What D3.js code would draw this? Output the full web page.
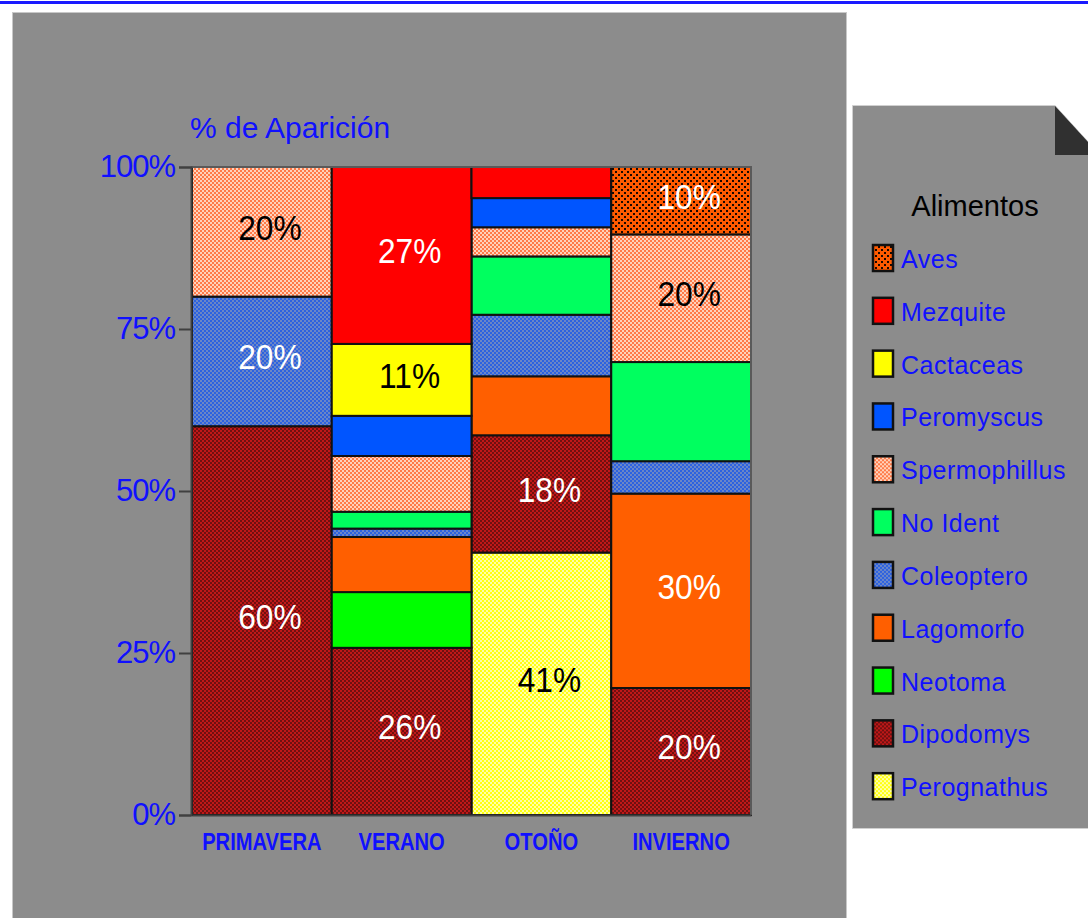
<!DOCTYPE html>
<html>
<head>
<meta charset="utf-8">
<script src="https://cdn.jsdelivr.net/npm/d3@7"></script>
<style>
  body { margin: 0; background: #fff; }
  svg { display: block; font-family: "Liberation Sans", Arial, sans-serif; }
</style>
</head>
<body>
<div id="chart"></div>
<script>
// seasons along x
var categories = ["PRIMAVERA", "VERANO", "OTOÑO", "INVIERNO"]

// stacked from the bottom up
var series = ["Perognathus", "Dipodomys", "Neotoma", "Lagomorfo", "Coleoptero",
  "No Ident", "Spermophillus", "Peromyscus", "Cactaceas", "Mezquite", "Aves"]

// % de aparicion per season
var perognathus   = [0, 0, 40.5, 0]
var dipodomys     = [60, 25.8, 18.1, 19.6]
var neotoma       = [0, 8.6, 0, 0]
var lagomorfo     = [0, 8.5, 9.1, 30]
var coleoptero    = [20, 1.3, 9.5, 5]
var noIdent       = [0, 2.6, 9.0, 15.3]
var spermophillus = [20, 8.6, 4.5, 19.7]
var peromyscus    = [0, 6.2, 4.5, 0]
var cactaceas     = [0, 11.1, 0, 0]
var mezquite      = [0, 27.3, 4.8, 0]
var aves          = [0, 0, 0, 10.4]

var yTicks = [0, 25, 50, 75, 100]

// labels printed inside the segments
var segLabels = [
  ["PRIMAVERA", "Spermophillus", "20%"],
  ["PRIMAVERA", "Coleoptero", "20%"],
  ["PRIMAVERA", "Dipodomys", "60%"],
  ["VERANO", "Mezquite", "27%"],
  ["VERANO", "Cactaceas", "11%"],
  ["VERANO", "Dipodomys", "26%"],
  ["OTOÑO", "Dipodomys", "18%"],
  ["OTOÑO", "Perognathus", "41%"],
  ["INVIERNO", "Aves", "10%"],
  ["INVIERNO", "Spermophillus", "20%"],
  ["INVIERNO", "Lagomorfo", "30%"],
  ["INVIERNO", "Dipodomys", "20%"]
]

var valuesBySeries = {
  "Perognathus": perognathus, "Dipodomys": dipodomys, "Neotoma": neotoma,
  "Lagomorfo": lagomorfo, "Coleoptero": coleoptero, "No Ident": noIdent,
  "Spermophillus": spermophillus, "Peromyscus": peromyscus, "Cactaceas": cactaceas,
  "Mezquite": mezquite, "Aves": aves
}

var table = categories.map(function (c, i) {
  var row = { cat: c }
  series.forEach(function (s) { row[s] = valuesBySeries[s][i] })
  return row
})

var fills = {
  "Perognathus": "url(#pPerog)",
  "Dipodomys": "url(#pDipo)",
  "Neotoma": "#00ff00",
  "Lagomorfo": "#ff5f00",
  "Coleoptero": "url(#pColeo)",
  "No Ident": "#00ff5f",
  "Spermophillus": "url(#pSperm)",
  "Peromyscus": "#0055ff",
  "Cactaceas": "#ffff00",
  "Mezquite": "#ff0000",
  "Aves": "url(#pAves)"
}
var darkText = { "Spermophillus": 1, "Cactaceas": 1, "Perognathus": 1 }

var W = 1088, H = 918
var svg = d3.select("#chart").append("svg")
  .attr("width", W).attr("height", H)

// dithered fills, 4px tiles with a 2px checker
var defs = svg.append("defs")
function dither(id, a, b) {
  var p = defs.append("pattern").attr("id", id)
    .attr("patternUnits", "userSpaceOnUse").attr("width", 4).attr("height", 4)
  p.append("rect").attr("width", 4).attr("height", 4).attr("fill", a)
    .attr("shape-rendering", "crispEdges")
  p.append("rect").attr("width", 2).attr("height", 2).attr("fill", b)
    .attr("shape-rendering", "crispEdges")
  p.append("rect").attr("x", 2).attr("y", 2).attr("width", 2).attr("height", 2).attr("fill", b)
    .attr("shape-rendering", "crispEdges")
}
dither("pPerog", "#ffff10", "#ffffa8")
dither("pDipo", "#c01818", "#701010")
dither("pColeo", "#2c62e0", "#6a86c8")
dither("pSperm", "#ff7a48", "#ffd2bc")
var av = defs.append("pattern").attr("id", "pAves")
  .attr("patternUnits", "userSpaceOnUse").attr("width", 6).attr("height", 6)
av.append("rect").attr("width", 6).attr("height", 6).attr("fill", "#ff5a00")
  .attr("shape-rendering", "crispEdges")
av.append("rect").attr("width", 2).attr("height", 2).attr("fill", "#1a0800")
  .attr("shape-rendering", "crispEdges")
av.append("rect").attr("x", 3).attr("y", 3).attr("width", 2).attr("height", 2).attr("fill", "#1a0800")
  .attr("shape-rendering", "crispEdges")

// top rule and panels
svg.append("rect").attr("x", 0).attr("y", 1).attr("width", W).attr("height", 3).attr("fill", "#1a1aff")
svg.append("rect").attr("x", 12.5).attr("y", 12.5).attr("width", 834).attr("height", 910)
  .attr("fill", "#8c8c8c").attr("stroke", "#c8c8c8")

var plot = { left: 191, right: 751, top: 167, bottom: 815 }

var x = d3.scaleBand().domain(categories).range([plot.left + 1, plot.right]).padding(0)
var y = d3.scaleLinear().domain([0, 100]).range([plot.bottom, plot.top])

var stacked = d3.stack().keys(series)(table)

var g = svg.append("g")
g.selectAll("g.layer")
  .data(stacked)
  .enter().append("g")
  .attr("class", "layer")
  .attr("fill", function (d) { return fills[d.key] })
  .selectAll("rect")
  .data(function (d) { return d.filter(function (p) { return p[1] - p[0] > 0 }) })
  .enter().append("rect")
  .attr("x", function (d) { return x(d.data.cat) })
  .attr("width", x.bandwidth())
  .attr("y", function (d) { return y(d[1]) })
  .attr("height", function (d) { return y(d[0]) - y(d[1]) })
  .attr("stroke", "#111")
  .attr("stroke-width", 2)

// segment labels
var layerByKey = {}
stacked.forEach(function (l) { layerByKey[l.key] = l })
g.selectAll("text.seg")
  .data(segLabels)
  .enter().append("text")
  .attr("class", "seg")
  .attr("transform", function (d) {
    var p = layerByKey[d[1]][categories.indexOf(d[0])]
    var cx = x(d[0]) + x.bandwidth() / 2 + 8
    var cy = (y(p[0]) + y(p[1])) / 2 - 5
    return "translate(" + cx + "," + cy + ") scale(0.88,1)"
  })
  .attr("text-anchor", "middle")
  .attr("dy", "0.36em")
  .attr("font-size", 36)
  .attr("fill", function (d) { return darkText[d[1]] ? "#000" : "#fff" })
  .text(function (d) { return d[2] })

// plot frame
svg.append("path")
  .attr("d", "M" + plot.left + "," + plot.top + "H" + plot.right + "V" + plot.bottom)
  .attr("fill", "none").attr("stroke", "#5a5a5a").attr("stroke-width", 2)

// y axis
var yAxis = svg.append("g")
  .attr("transform", "translate(" + plot.left + ",0)")
  .call(d3.axisLeft(y).tickValues(yTicks).tickSize(12).tickPadding(4)
    .tickFormat(function (d) { return d + "%" }))
yAxis.select(".domain").attr("stroke", "#404040").attr("stroke-width", 2)
yAxis.selectAll(".tick line").attr("stroke", "#404040").attr("stroke-width", 2)
yAxis.selectAll(".tick text")
  .attr("fill", "#1010ff")
  .attr("font-family", "'Liberation Sans', Arial, sans-serif")
  .attr("font-size", 31)
  .attr("letter-spacing", -1)

// x axis
var xAxis = svg.append("g")
  .attr("transform", "translate(0," + plot.bottom + ")")
  .call(d3.axisBottom(x).tickSize(0).tickPadding(18))
xAxis.select(".domain").attr("stroke", "#404040").attr("stroke-width", 2)
xAxis.selectAll(".tick text")
  .attr("fill", "#1010ff")
  .attr("font-family", "'Liberation Sans', Arial, sans-serif")
  .attr("font-size", 24)
  .attr("font-weight", "bold")
  .attr("transform", "scale(0.84,1)")
  .attr("x", 0)

// the scale above would squeeze the label positions too, so undo it on the tick groups
xAxis.selectAll(".tick")
  .attr("transform", function (d) { return "translate(" + (x(d) + x.bandwidth() / 2) + ",0)" })

// axis title
svg.append("text")
  .attr("x", 190).attr("y", 138)
  .attr("fill", "#1010ff")
  .attr("font-size", 30)
  .text("% de Aparición")

// legend panel with folded corner
var lg = svg.append("g")
lg.append("path")
  .attr("d", "M852.5,828.5V105.5H1055L1100,155V828.5Z")
  .attr("fill", "#8c8c8c").attr("stroke", "#d0d0d0")
lg.append("path")
  .attr("d", "M1055,106L1100,155H1055Z")
  .attr("fill", "#303030")

lg.append("text")
  .attr("x", 975).attr("y", 216)
  .attr("text-anchor", "middle")
  .attr("font-size", 29)
  .attr("fill", "#000")
  .text("Alimentos")

var legendItems = series.slice().reverse()
var ly = d3.scaleBand().domain(legendItems).range([240, 821])
var item = lg.selectAll("g.item")
  .data(legendItems)
  .enter().append("g")
  .attr("class", "item")
  .attr("transform", function (d) { return "translate(872," + ly(d) + ")" })
item.append("rect")
  .attr("x", 1).attr("y", 5).attr("width", 20).attr("height", 26)
  .attr("fill", function (d) { return fills[d] })
  .attr("stroke", "#111").attr("stroke-width", 2.5)
item.append("text")
  .attr("x", 29).attr("y", 28)
  .attr("font-size", 25)
  .attr("letter-spacing", 0.5)
  .attr("fill", "#1010ff")
  .text(function (d) { return d })
</script>
</body>
</html>
